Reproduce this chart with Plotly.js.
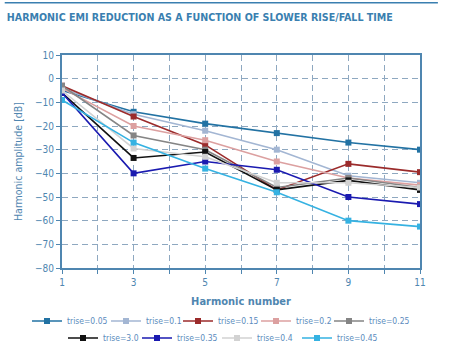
<!DOCTYPE html>
<html><head><meta charset="utf-8">
<script src="https://cdn.plot.ly/plotly-3.0.1.min.js"></script>
<style>body{margin:0;background:#fff}#c{width:456px;height:350px}</style>
</head><body><div id="c"></div>
<script>
const harmonics = [1, 3, 5, 7, 9, 11];
const seriesNames = ['trise=0.05','trise=0.1','trise=0.15','trise=0.2','trise=0.25','trise=3.0','trise=0.35','trise=0.4','trise=0.45'];
const trise005 = [-5, -14, -19, -23, -27, -30];
const trise01  = [-4, -15, -22, -30, -41, -44];
const trise015 = [-3, -16, -28, -47, -36, -39.5];
const trise02  = [-4, -20, -26, -35, -42, -45];
const trise025 = [-3, -24, -30, -46, -42, -46];
const trise30  = [-6, -33.5, -31, -47, -43, -47];
const trise035 = [-6, -40, -35, -38.5, -50, -53];
const trise04  = [-5, -29.5, -33, -44, -44, -46];
const trise045 = [-9, -27, -38, -48, -60, -62.5];
const seriesValues = [trise005, trise01, trise015, trise02, trise025, trise30, trise035, trise04, trise045];
const seriesColors = ['#2272a3','#a3b6d3','#9b2b2b','#dca0a0','#858585','#111111','#1a1ab0','#d2d2d2','#35b2e2'];
const xTickVals = [1, 3, 5, 7, 9, 11];
const yTickVals = [10, 0, -10, -20, -30, -40, -50, -60, -70, -80];

// legend placement (pixels of the text start, row centre) - layout only
const legendTextX = [67, 146, 218, 296, 369, 103, 177, 257, 337];
const legendRowY  = [321, 321, 321, 321, 321, 338, 338, 338, 338];

const plotL = 62, plotR = 420, plotT = 55, plotB = 268;
const legendKey = i => i === 0 ? 'legend' : 'legend' + (i + 1);

const traces = seriesNames.map((n, i) => ({
  type: 'scatter', mode: 'lines+markers', name: n,
  legend: legendKey(i),
  x: harmonics, y: seriesValues[i],
  line: {color: seriesColors[i], width: 1.6},
  marker: {color: seriesColors[i], size: 6, symbol: 'square'}
}));

const axisColor = '#4f86b0';
const gridColor = '#8ea8c0';
const font = "'DejaVu Sans Condensed', 'DejaVu Sans', sans-serif";
const layout = {
  width: 456, height: 350,
  margin: {l: plotL, r: 456 - plotR, t: plotT, b: 350 - plotB, autoexpand: false},
  paper_bgcolor: '#fff', plot_bgcolor: '#fff',
  showlegend: true,
  font: {family: font, color: axisColor, size: 10},
  title: {text: '<b>HARMONIC EMI REDUCTION AS A FUNCTION OF SLOWER RISE/FALL TIME</b>',
    x: 0.015, xanchor: 'left', y: 0.952, yanchor: 'middle',
    font: {family: font, size: 10.6, color: '#3a7fb0'}},
  xaxis: {
    range: [1, 11], tickvals: xTickVals, ticktext: xTickVals.map(String),
    showline: true, linecolor: axisColor, linewidth: 2, mirror: true,
    ticks: 'outside', ticklen: 4, tickcolor: axisColor,
    showgrid: true, gridcolor: gridColor, griddash: '6px,4px', gridwidth: 1,
    minor: {dtick: 1, showgrid: true, gridcolor: gridColor, griddash: '6px,4px', ticks: 'outside', ticklen: 4, tickcolor: axisColor},
    zeroline: false, automargin: false,
    tickfont: {size: 10, color: axisColor},
    title: {text: '<b>Harmonic number</b>', font: {size: 11, color: axisColor}, standoff: 10}
  },
  yaxis: {
    range: [-80, 10], tickvals: yTickVals,
    showline: true, linecolor: axisColor, linewidth: 2, mirror: true,
    ticks: 'outside', ticklen: 4, tickcolor: axisColor,
    showgrid: true, gridcolor: gridColor, griddash: '6px,4px', gridwidth: 1,
    zeroline: false, automargin: false,
    tickfont: {size: 10, color: axisColor},
    title: {text: 'Harmonic amplitude [dB]', font: {size: 10.5, color: axisColor}, standoff: 10}
  },
  shapes: [
    {type: 'line', xref: 'paper', yref: 'paper', x0: -0.16, x1: 1.05, y0: 1.245, y1: 1.245,
     line: {color: '#3a7fb0', width: 1.5}}
  ]
};
const plotW = plotR - plotL, plotH = plotB - plotT;
seriesNames.forEach((n, i) => {
  layout[legendKey(i)] = {
    orientation: 'h', xanchor: 'left', yanchor: 'middle',
    x: (legendTextX[i] - 40 - plotL) / plotW,
    y: (plotB - legendRowY[i]) / plotH,
    font: {size: 8.5, color: '#5b8bbd'}, itemwidth: 30,
    bgcolor: 'rgba(0,0,0,0)'
  };
});
Plotly.newPlot('c', traces, layout, {displayModeBar: false});
</script></body></html>
